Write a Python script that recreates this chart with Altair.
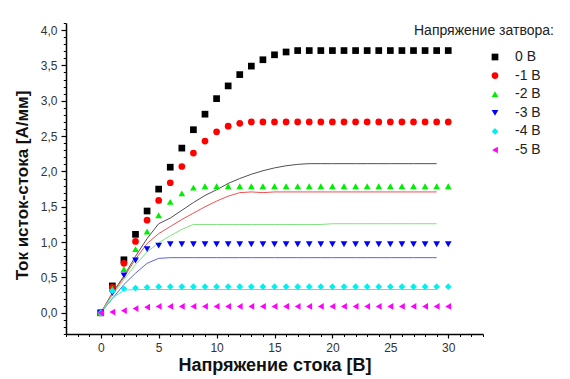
import altair as alt
import pandas as pd

series = ["0 В", "-1 В", "-2 В", "-3 В", "-4 В", "-5 В"]
colors = ["#000000", "#ff0000", "#00ee00", "#0000ff", "#00f0f0", "#ff00ff"]
shapes = ["square", "circle", "triangle-up", "triangle-down", "diamond", "triangle-left"]
sizes = [45, 45, 60, 60, 55, 60]

x_pts = list(range(31))
p0 = [0, 0.38, 0.75, 1.11, 1.44, 1.75, 2.06, 2.33, 2.59, 2.81, 3.03, 3.21, 3.37, 3.49, 3.58, 3.65, 3.69] + [3.71] * 14
p1 = [0, 0.36, 0.70, 1.01, 1.31, 1.59, 1.84, 2.07, 2.26, 2.43, 2.56, 2.64, 2.68] + [2.70] * 18
p2 = [0, 0.34, 0.62, 0.90, 1.15, 1.38, 1.57, 1.69, 1.77] + [1.79] * 22
p3 = [0, 0.28, 0.53, 0.74, 0.90, 0.95] + [0.97] * 25
p4 = [0, 0.31, 0.34, 0.35, 0.36] + [0.37] * 26
p5 = [0, 0.01, 0.03, 0.06, 0.08] + [0.09] * 26

line_series = ["0 В", "-1 В", "-2 В", "-3 В", "-4 В"]
line_colors = ["#505050", "#f05050", "#80e080", "#6060e0", "#40e8e8"]
x_lines = list(range(30))
l0 = [0, 0.28, 0.52, 0.80, 1.05, 1.26, 1.34, 1.45, 1.56, 1.66, 1.74, 1.83, 1.90, 1.96, 2.01, 2.05, 2.08, 2.10] + [2.11] * 12
l1 = [0, 0.27, 0.50, 0.76, 0.98, 1.12, 1.22, 1.32, 1.41, 1.50, 1.58, 1.65, 1.70, 1.71, 1.70] + [1.71] * 15
l2 = [0, 0.25, 0.47, 0.68, 0.86, 0.99, 1.09, 1.18] + [1.25] * 12 + [1.26] * 10
l3 = [0, 0.20, 0.40, 0.56, 0.70, 0.77] + [0.78] * 24
l4 = [0, 0.21, 0.32] + [0.33] * 27

y_major = [0, 0.5, 1.0, 1.5, 2.0, 2.5, 3.0, 3.5, 4.0]
y_minor = [round(-0.3 + 0.1 * i, 1) for i in range(45)]
x_major = [0, 5, 10, 15, 20, 25, 30]
x_minor = list(range(-3, 34))

pts_rows = []
for s, vals in zip(series, [p0, p1, p2, p3, p4, p5]):
    for xv, yv in zip(x_pts, vals):
        pts_rows.append({"x": xv, "y": yv, "s": s})
df_pts = pd.DataFrame(pts_rows)

line_rows = []
for s, vals in zip(line_series, [l0, l1, l2, l3, l4]):
    for xv, yv in zip(x_lines, vals):
        line_rows.append({"x": xv, "y": yv, "s": s})
df_lines = pd.DataFrame(line_rows)

xs = alt.Scale(domain=[-3, 33], nice=False, zero=False)
ys = alt.Scale(domain=[-0.3, 4.1], nice=False, zero=False)

font = "Liberation Sans"

major_x = alt.Axis(orient="bottom", values=x_major, tickSize=4, tickColor="black", domainColor="black",
                   domainWidth=1.5, tickWidth=1.2, labelFontSize=12, labelColor="#333333", labelFont=font,
                   labelPadding=4, grid=False, title="Напряжение стока [В]", titleFont=font,
                   titleFontSize=18, titleFontWeight="bold", titleColor="#111111", titlePadding=3)
minor_x = alt.Axis(orient="bottom", values=x_minor, tickSize=2.5, tickColor="black", tickWidth=1,
                   labels=False, domain=False, grid=False, title=None)
major_y = alt.Axis(orient="left", values=y_major, tickSize=5, tickColor="black", domainColor="black",
                   domainWidth=1.5, tickWidth=1.2, labelFontSize=12, labelColor="#333333", labelFont=font,
                   labelPadding=4, grid=False,
                   labelExpr="replace(format(datum.value, '.1f'), '.', ',')",
                   title="Ток исток-стока [А/мм]", titleFont=font, titleFontSize=17,
                   titleFontWeight="bold", titleColor="#111111", titlePadding=9, titleY=162)
minor_y = alt.Axis(orient="left", values=y_minor, tickSize=2.7, tickColor="black", tickWidth=1,
                   labels=False, domain=False, grid=False, title=None)

lines = alt.Chart(df_lines).mark_line(strokeWidth=1).encode(
    x=alt.X("x:Q", scale=xs, axis=minor_x),
    y=alt.Y("y:Q", scale=ys, axis=minor_y),
    color=alt.Color("s:N", scale=alt.Scale(domain=line_series, range=line_colors), legend=None),
)

points = alt.Chart(df_pts).mark_point(filled=True, opacity=1).encode(
    x=alt.X("x:Q", scale=xs, axis=major_x),
    y=alt.Y("y:Q", scale=ys, axis=major_y),
    color=alt.Color("s:N", scale=alt.Scale(domain=series, range=colors),
                    legend=alt.Legend(title=None, orient="none", legendX=422, legendY=27,
                                      labelFontSize=14, labelFont=font, labelColor="#222222",
                                      labelOffset=13, rowPadding=4.6)),
    shape=alt.Shape("s:N", scale=alt.Scale(domain=series, range=shapes), legend=None),
    size=alt.Size("s:N", scale=alt.Scale(domain=series, range=sizes), legend=None),
)

legend_title = alt.Chart(pd.DataFrame({"t": ["Напряжение затвора:"]})).mark_text(
    align="left", baseline="middle", fontSize=14, font=font, color="#222222"
).encode(x=alt.value(348), y=alt.value(8), text="t:N")

chart = alt.layer(lines, points, legend_title).resolve_scale(
    color="independent", shape="independent", size="independent"
).resolve_axis(x="independent", y="independent").properties(
    width=417, height=311, padding={"left": 5, "top": 14, "right": 5, "bottom": 5}
).configure_view(stroke=None)

chart.save("out.html", embed_options={"renderer": "svg", "actions": False})
